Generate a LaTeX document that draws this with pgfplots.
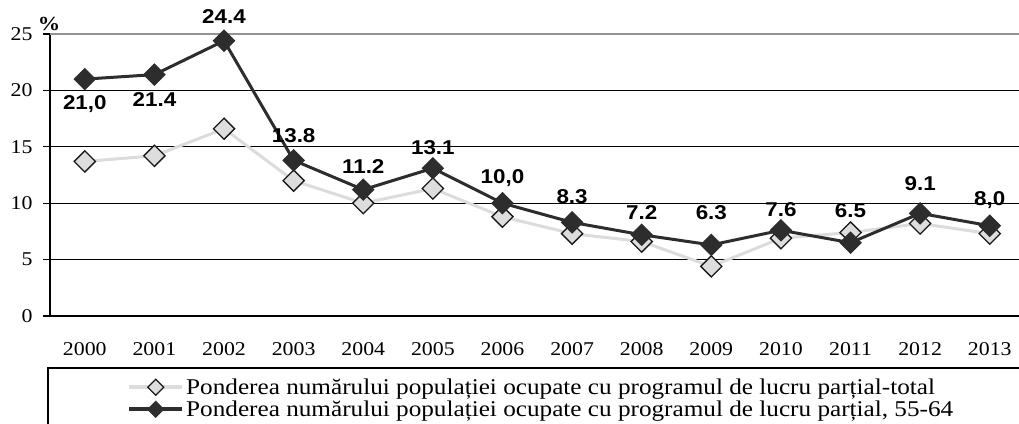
\documentclass[border=0pt]{standalone}
\usepackage{fontspec}
\setmainfont{Liberation Serif}[FakeStretch=1.12]
\newfontfamily\lab{Liberation Sans}[FakeStretch=1.12]
\usepackage{pgfplots}
\usepackage{pgfplotstable}
\pgfplotsset{compat=1.18}
\definecolor{darkser}{HTML}{2D2D2D}
\definecolor{lightline}{HTML}{DCDCDC}
\definecolor{lightfill}{HTML}{DDDDDD}
\pgfplotstableread{
x total
0 13.7
1 14.2
2 16.6
3 12.0
4 10.0
5 11.3
6 8.8
7 7.3
8 6.6
9 4.4
10 6.9
11 7.4
12 8.2
13 7.3
}\tabtotal
\pgfplotstableread{
x v lbl dy
0 21.0 {21,0} -25
1 21.4 21.4 -25
2 24.4 24.4 24
3 13.8 13.8 25
4 11.2 11.2 23
5 13.1 13.1 21
6 10.0 {10,0} 25
7 8.3 8.3 26
8 7.2 7.2 22
9 6.3 6.3 32
10 7.6 7.6 21
11 6.5 6.5 32
12 9.1 9.1 30
13 8.0 {8,0} 26
}\tabold
\begin{document}
\begin{tikzpicture}
\useasboundingbox (-50bp,-108bp) rectangle (969bp,316bp);
\begin{axis}[
  at={(0,0)}, anchor=south west,
  scale only axis, width=969bp, height=282bp,
  xmin=-0.5, xmax=13.42, ymin=0, ymax=25,
  axis x line=bottom, axis y line=left,
  axis line style={black, line width=1.4bp, -},
  /pgf/number format/assume math mode=true,
  xtick={0,...,13},
  xticklabels={2000,2001,2002,2003,2004,2005,2006,2007,2008,2009,2010,2011,2012,2013},
  x tick style={draw=none},
  extra x ticks={-0.5,0.5,1.5,...,12.5},
  extra x tick labels={},
  extra x tick style={tick style={draw=black, line width=1.2bp}, major tick length=7bp},
  ytick={0,5,10,15,20},
  extra y ticks={25},
  extra y tick style={grid style={gray!85, line width=1.2bp}},
  ymajorgrids,
  grid style={black, line width=1.2bp},
  y tick style={draw=black, line width=1.2bp},
  tick align=outside, major tick length=7bp,
  ticklabel style={font=\fontsize{19.5bp}{21bp}\selectfont},
  xticklabel style={yshift=-16bp},
  yticklabel style={xshift=-7bp},
  legend style={at={(0.0795,-0.2145)}, anchor=north west, draw=none, fill=none,
    font=\fontsize{22.5bp}{25bp}\selectfont, inner sep=0pt, row sep=1bp,
    cells={anchor=west}},
  legend image code/.code={\draw[line width=4bp, mark repeat=2,mark phase=2,every mark/.append style={scale=0.75}] plot coordinates {(0bp,0bp) (26.5bp,0bp) (53bp,0bp)};},
  clip=false,
]
\addplot[lightline, line width=3bp, mark=square*, mark size=7.5bp,
  mark options={rotate=45, fill=lightfill, draw=black!90, line width=1.3bp}]
  table[x=x,y=total]{\tabtotal};
\addlegendentry{Ponderea numărului populației ocupate cu programul de lucru parțial-total}
\addplot[darkser, line width=3bp, mark=square*, mark size=7.5bp,
  mark options={rotate=45, fill=darkser, draw=darkser, line width=1bp},
  point meta=explicit symbolic,
  nodes near coords,
  visualization depends on={\thisrow{dy} \as \dy},
  every node near coord/.append style={anchor=center, yshift=\dy bp, black,
    font=\lab\bfseries\fontsize{20bp}{21bp}\selectfont}]
  table[x=x,y=v,meta=lbl]{\tabold};
\addlegendentry{Ponderea numărului populației ocupate cu programul de lucru parțial, 55-64}
\node[font=\bfseries\fontsize{20bp}{21bp}\selectfont] at (axis description cs:-0.001,1.035) {\%};
\draw[black, line width=1.8bp] (axis description cs:-0.002,-0.5) -- (axis description cs:-0.002,-0.1844) -- (axis description cs:1.01,-0.1844);
\end{axis}
\end{tikzpicture}
\end{document}
